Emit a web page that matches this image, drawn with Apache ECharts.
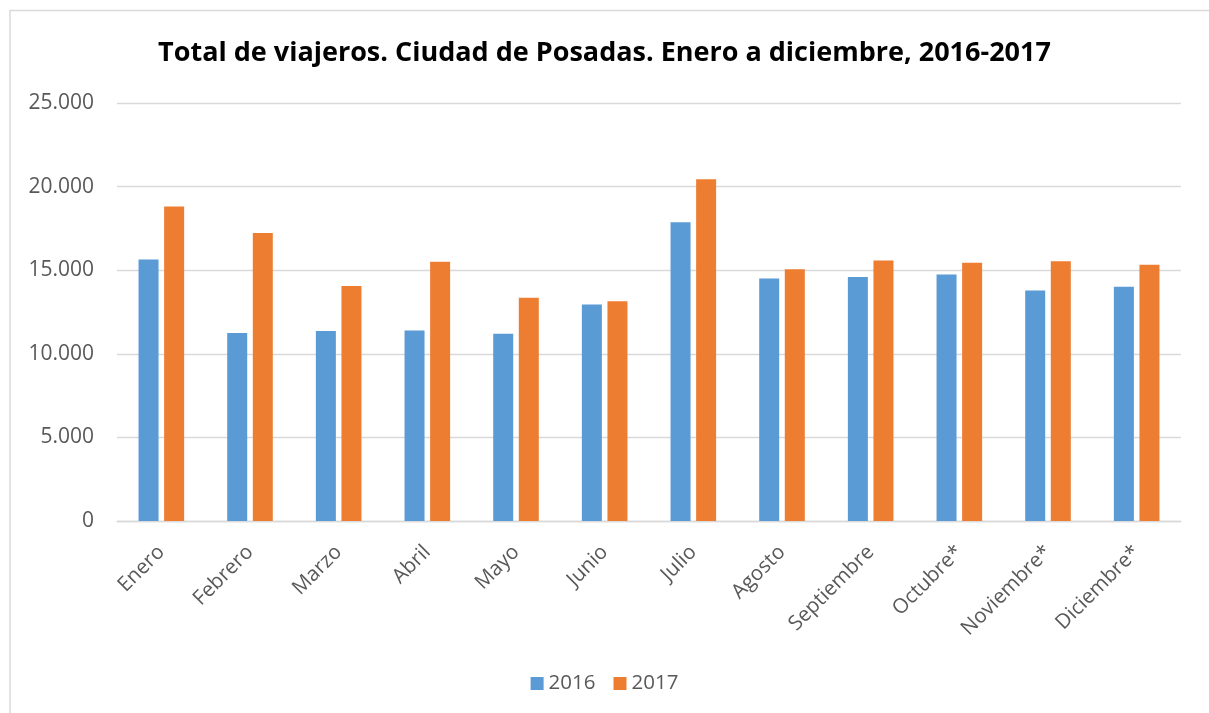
<!DOCTYPE html>
<html>
<head>
<meta charset="utf-8">
<script src="https://cdn.jsdelivr.net/npm/echarts@6/dist/echarts.min.js"></script>
<style>
  html, body { margin: 0; padding: 0; background: #fff; }
  #chart { width: 1209px; height: 713px; }
</style>
</head>
<body>
<div id="chart"></div>
<script>
// values
const months = ['Enero', 'Febrero', 'Marzo', 'Abril', 'Mayo', 'Junio', 'Julio',
    'Agosto', 'Septiembre', 'Octubre*', 'Noviembre*', 'Diciembre*'];
const viajeros2016 = [15640, 11240, 11360, 11400, 11200, 12950, 17870, 14500, 14600, 14740, 13790, 14010];
const viajeros2017 = [18810, 17230, 14050, 15500, 13350, 13150, 20440, 15060, 15580, 15440, 15540, 15320];
const yTicks = [0, 5000, 10000, 15000, 20000, 25000];

const fontFam = '"Open Sans", "Liberation Sans", sans-serif';
const grey = '#595959';

function fmtMiles(v) {
    // 25000 -> 25.000
    return String(v).replace(/\B(?=(\d{3})+(?!\d))/g, '.');
}

var myChart = echarts.init(document.getElementById('chart'));

var option = {
    animation: false,
    backgroundColor: '#fff',
    title: {
        text: 'Total de viajeros. Ciudad de Posadas. Enero a diciembre, 2016-2017',
        left: 'center',
        top: 35,
        textStyle: {
            fontFamily: fontFam,
            fontWeight: 'bold',
            fontSize: 27,
            color: '#000'
        }
    },
    legend: {
        data: ['2016', '2017'],
        bottom: 14,
        left: 'center',
        itemWidth: 13,
        itemHeight: 13,
        itemGap: 18,
        icon: 'rect',
        textStyle: { fontFamily: fontFam, fontSize: 20.5, color: grey }
    },
    grid: {
        left: 117,
        right: 28,
        top: 103,
        bottom: 192
    },
    xAxis: {
        type: 'category',
        data: months,
        axisTick: { show: false },
        axisLine: { lineStyle: { color: '#d9d9d9', width: 1.3 } },
        axisLabel: {
            rotate: 45,
            interval: 0,
            margin: 28,
            fontFamily: fontFam,
            fontSize: 20.5,
            color: grey
        }
    },
    yAxis: {
        type: 'value',
        min: yTicks[0],
        max: yTicks[yTicks.length - 1],
        interval: 5000,
        axisLine: { show: false },
        axisTick: { show: false },
        splitLine: { lineStyle: { color: '#d9d9d9', width: 1.3 } },
        axisLabel: {
            margin: 23,
            fontFamily: fontFam,
            fontSize: 21,
            color: grey,
            formatter: fmtMiles
        }
    },
    series: [
        {
            name: '2016',
            type: 'bar',
            data: viajeros2016,
            barWidth: 20,
            barGap: '28%',
            itemStyle: { color: '#5B9BD5' }
        },
        {
            name: '2017',
            type: 'bar',
            data: viajeros2017,
            barWidth: 20,
            barGap: '28%',
            itemStyle: { color: '#ED7D31' }
        }
    ],
    graphic: [
        {
            type: 'polyline',
            silent: true,
            shape: { points: [[10, 713], [10, 10.5], [1209, 10.5]] },
            style: { stroke: '#d9d9d9', lineWidth: 1.5, fill: null }
        }
    ]
};

myChart.setOption(option);
</script>
</body>
</html>
